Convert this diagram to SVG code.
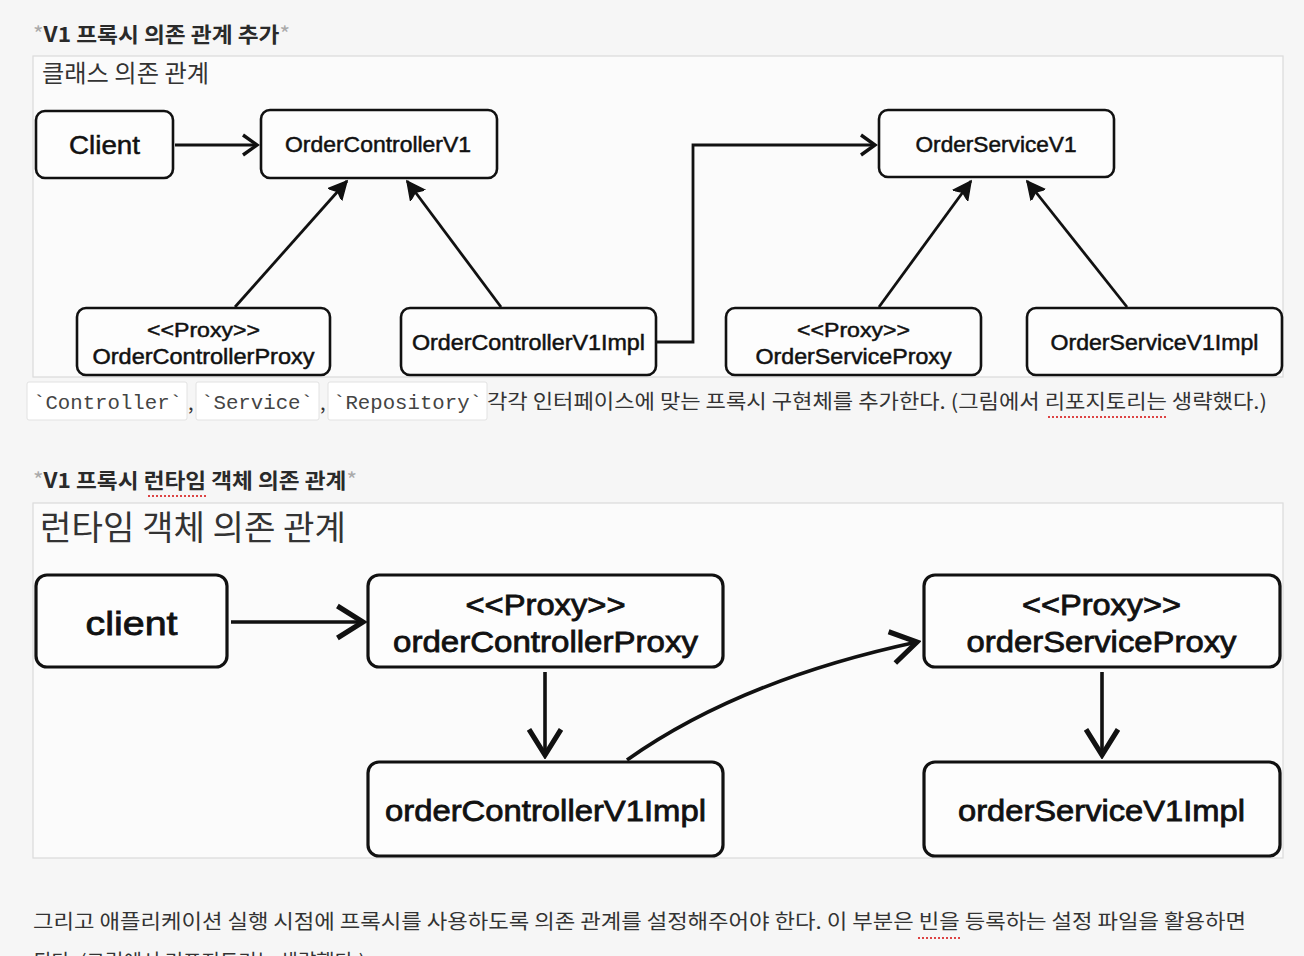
<svg xmlns="http://www.w3.org/2000/svg" width="1304" height="956" viewBox="0 0 1304 956">
<style>
.kr{font-family:"Noto Sans CJK KR","Noto Sans",sans-serif;fill:#333}
.ttl{font-family:"Noto Sans CJK KR","Noto Sans",sans-serif;fill:#2a2a2a;font-weight:700;font-size:21px}
.ast{fill:#aaa;font-weight:400}
.panel{fill:#fbfbfb;stroke:#dadada;stroke-width:1.2}
.node{fill:#fdfdfd;stroke:#111;stroke-width:2.6}
.nodeB{fill:#fdfdfd;stroke:#111;stroke-width:3.2}
.lbl{font-family:"Liberation Sans",Arial,sans-serif;fill:#111;text-anchor:middle;stroke:#111;stroke-width:0.5}
.lblB{font-family:"Liberation Sans",Arial,sans-serif;fill:#111;text-anchor:middle;stroke:#111;stroke-width:0.8}
.conn{fill:none;stroke:#111;stroke-width:2.8}
.connB{fill:none;stroke:#111;stroke-width:3.6}
.chip{fill:#fff;stroke:#e2e2e2;stroke-width:1}
.code{font-family:"Liberation Mono","DejaVu Sans Mono",monospace;fill:#444;font-size:20px}
.sq{fill:none;stroke:#d44;stroke-width:2;stroke-dasharray:2 2}
</style>
<defs>
<marker id="open" markerUnits="userSpaceOnUse" markerWidth="20" markerHeight="24" refX="15" refY="11" orient="auto" viewBox="0 0 20 22">
<path d="M1,1 L15,11 L1,21" fill="none" stroke="#111" stroke-width="3.4"/>
</marker>
<marker id="openB" markerUnits="userSpaceOnUse" markerWidth="32" markerHeight="38" refX="26" refY="17" orient="auto" viewBox="0 0 30 34">
<path d="M2,2 L26,17 L2,32" fill="none" stroke="#111" stroke-width="4.8"/>
</marker>
<marker id="block" markerUnits="userSpaceOnUse" markerWidth="22" markerHeight="20" refX="18" refY="9" orient="auto" viewBox="0 0 22 18">
<path d="M0,0 L18,9 L0,18 L4,9 Z" fill="#111" stroke="#111" stroke-width="1.5"/>
</marker>
</defs>
<rect width="1304" height="956" fill="#f6f6f6"/>

<text class="ttl" x="33" y="42" textLength="257" lengthAdjust="spacingAndGlyphs"><tspan class="ast">*</tspan><tspan>V1 프록시 의존 관계 추가</tspan><tspan class="ast">*</tspan></text>
<rect class="panel" x="33" y="56" width="1250" height="321"/>
<text class="kr" x="42" y="82" font-size="24" textLength="167" lengthAdjust="spacingAndGlyphs">클래스 의존 관계</text>

<g id="connectors-top">
<path class="conn" d="M175,145 L257,145" marker-end="url(#open)"/>
<path class="conn" d="M235,307 L347,181" marker-end="url(#block)"/>
<path class="conn" d="M501,307 L407,181" marker-end="url(#block)"/>
<path class="conn" d="M657,342 L693,342 L693,145 L875,145" marker-end="url(#open)"/>
<path class="conn" d="M879,307 L971,181" marker-end="url(#block)"/>
<path class="conn" d="M1127,307 L1027,181" marker-end="url(#block)"/>
</g>

<g id="n-client">
<rect class="node" x="36" y="111" width="137" height="67" rx="9"/>
<text class="lbl" x="104.5" y="154" font-size="25" textLength="71" lengthAdjust="spacingAndGlyphs" stroke-width="0.8">Client</text>
</g>
<g id="n-ordercontrollerv1">
<rect class="node" x="261" y="110" width="236" height="68" rx="9"/>
<text class="lbl" x="378" y="152" font-size="22" textLength="186" lengthAdjust="spacingAndGlyphs">OrderControllerV1</text>
</g>
<g id="n-orderservicev1">
<rect class="node" x="879" y="110" width="235" height="67" rx="9"/>
<text class="lbl" x="996" y="152" font-size="22" textLength="161" lengthAdjust="spacingAndGlyphs">OrderServiceV1</text>
</g>
<g id="n-ordercontrollerproxy">
<rect class="node" x="77" y="308" width="253" height="67" rx="9"/>
<text class="lbl" x="203.5" y="337" font-size="21" textLength="113" lengthAdjust="spacingAndGlyphs">&lt;&lt;Proxy&gt;&gt;</text>
<text class="lbl" x="203.5" y="364" font-size="22" textLength="222" lengthAdjust="spacingAndGlyphs">OrderControllerProxy</text>
</g>
<g id="n-ordercontrollerv1impl">
<rect class="node" x="401" y="308" width="255" height="67" rx="9"/>
<text class="lbl" x="528.5" y="350" font-size="22" textLength="233" lengthAdjust="spacingAndGlyphs">OrderControllerV1Impl</text>
</g>
<g id="n-orderserviceproxy">
<rect class="node" x="726" y="308" width="255" height="67" rx="9"/>
<text class="lbl" x="853.5" y="337" font-size="21" textLength="113" lengthAdjust="spacingAndGlyphs">&lt;&lt;Proxy&gt;&gt;</text>
<text class="lbl" x="853.5" y="364" font-size="22" textLength="196" lengthAdjust="spacingAndGlyphs">OrderServiceProxy</text>
</g>
<g id="n-orderservicev1impl">
<rect class="node" x="1027" y="308" width="255" height="67" rx="9"/>
<text class="lbl" x="1154.5" y="350" font-size="22" textLength="208" lengthAdjust="spacingAndGlyphs">OrderServiceV1Impl</text>
</g>

<rect class="chip" x="27" y="382" width="160" height="38" rx="2"/>
<text class="code" x="33" y="409" textLength="149" lengthAdjust="spacingAndGlyphs">`Controller`</text>
<text class="kr" x="188" y="410" font-size="20">,</text>
<rect class="chip" x="196" y="382" width="123" height="38" rx="2"/>
<text class="code" x="201" y="409" textLength="112" lengthAdjust="spacingAndGlyphs">`Service`</text>
<text class="kr" x="320" y="410" font-size="20">,</text>
<rect class="chip" x="328" y="382" width="159" height="38" rx="2"/>
<text class="code" x="333" y="409" textLength="149" lengthAdjust="spacingAndGlyphs">`Repository`</text>
<text class="kr" x="487" y="409" font-size="20" textLength="780" lengthAdjust="spacingAndGlyphs">각각 인터페이스에 맞는 프록시 구현체를 추가한다. (그림에서 리포지토리는 생략했다.)</text>
<line class="sq" x1="1048" y1="417" x2="1167" y2="417"/>

<text class="ttl" x="33" y="488" textLength="324" lengthAdjust="spacingAndGlyphs"><tspan class="ast">*</tspan><tspan>V1 프록시 런타임 객체 의존 관계</tspan><tspan class="ast">*</tspan></text>
<line class="sq" x1="148" y1="496" x2="208" y2="496"/>
<rect class="panel" x="33" y="503" width="1250" height="355"/>
<text class="kr" x="40" y="540" font-size="34" textLength="306" lengthAdjust="spacingAndGlyphs">런타임 객체 의존 관계</text>

<g id="connectors-bottom">
<path class="connB" d="M231,622 L363,622" marker-end="url(#openB)"/>
<path class="connB" d="M545,672 L545,755" marker-end="url(#openB)"/>
<path class="connB" d="M627,760 Q740,680 917,642" marker-end="url(#openB)"/>
<path class="connB" d="M1102,672 L1102,755" marker-end="url(#openB)"/>
</g>

<g id="n-client-rt">
<rect class="nodeB" x="36" y="575" width="191" height="92" rx="11"/>
<text class="lblB" x="131.5" y="635" font-size="34" textLength="92" lengthAdjust="spacingAndGlyphs">client</text>
</g>
<g id="n-ordercontrollerproxy-rt">
<rect class="nodeB" x="368" y="575" width="355" height="92" rx="11"/>
<text class="lblB" x="545.5" y="615" font-size="29" textLength="160" lengthAdjust="spacingAndGlyphs">&lt;&lt;Proxy&gt;&gt;</text>
<text class="lblB" x="545.5" y="652" font-size="30" textLength="305" lengthAdjust="spacingAndGlyphs">orderControllerProxy</text>
</g>
<g id="n-ordercontrollerv1impl-rt">
<rect class="nodeB" x="368" y="762" width="355" height="94" rx="11"/>
<text class="lblB" x="545.5" y="821" font-size="30" textLength="321" lengthAdjust="spacingAndGlyphs">orderControllerV1Impl</text>
</g>
<g id="n-orderserviceproxy-rt">
<rect class="nodeB" x="924" y="575" width="356" height="92" rx="11"/>
<text class="lblB" x="1101.5" y="615" font-size="29" textLength="159" lengthAdjust="spacingAndGlyphs">&lt;&lt;Proxy&gt;&gt;</text>
<text class="lblB" x="1101.5" y="652" font-size="30" textLength="270" lengthAdjust="spacingAndGlyphs">orderServiceProxy</text>
</g>
<g id="n-orderservicev1impl-rt">
<rect class="nodeB" x="924" y="762" width="356" height="94" rx="11"/>
<text class="lblB" x="1101.5" y="821" font-size="30" textLength="287" lengthAdjust="spacingAndGlyphs">orderServiceV1Impl</text>
</g>

<text class="kr" x="33" y="929" font-size="20" textLength="1213" lengthAdjust="spacingAndGlyphs">그리고 애플리케이션 실행 시점에 프록시를 사용하도록 의존 관계를 설정해주어야 한다. 이 부분은 빈을 등록하는 설정 파일을 활용하면</text>
<line class="sq" x1="918" y1="938" x2="962" y2="938"/>
<text class="kr" x="33" y="969" font-size="20">된다. (그림에서 리포지토리는 생략했다.)</text>
</svg>
